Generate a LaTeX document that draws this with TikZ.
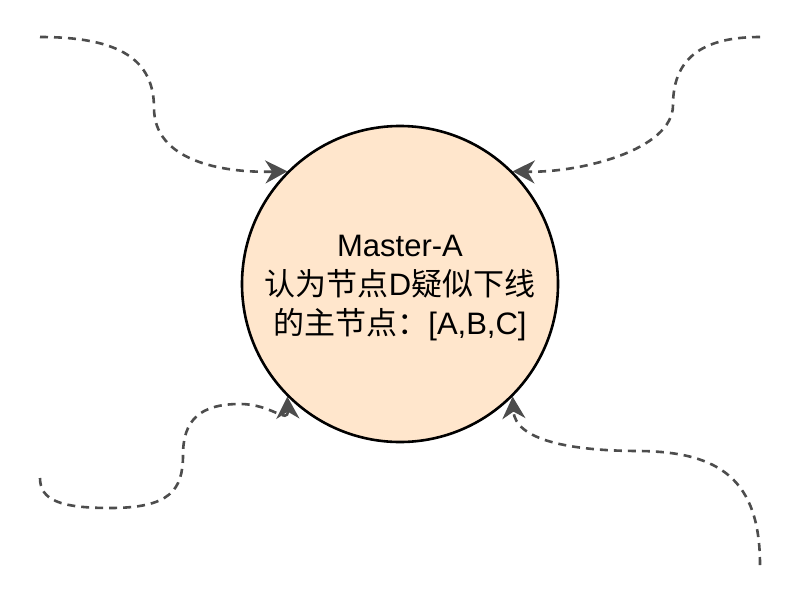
\documentclass[tikz,border=0pt]{standalone}
\usepackage{fontspec}
\setmainfont{Liberation Sans}
\newfontfamily\cjk{Noto Sans CJK SC}
\usetikzlibrary{arrows.meta}
\definecolor{peach}{HTML}{FFE6CC}
\definecolor{linkgrey}{HTML}{4D4D4D}
\tikzset{
  gossip/.style={draw=linkgrey, line width=2.6pt, dash pattern=on 8pt off 6pt,
    -{Stealth[length=22pt,width=23pt,inset=7pt]}},
}
\begin{document}
\begin{tikzpicture}[x=1pt,y=1pt,yscale=-1,xscale=1]
			\useasboundingbox (0,0) rectangle (794,594); %diagram is 794 wide, 594 high
			
			%Shape: Circle [id:master]
			\node[circle, draw=black, line width=2.6pt, fill=peach, minimum size=316pt, inner sep=0pt,
			      align=center, font=\fontsize{31}{39}\selectfont] (master) at (400,284)
			      {\rule{0pt}{30pt}Master-A\\{\cjk 认为节点}D{\cjk 疑似下线}\\{\cjk 的主节点：}[A,B,C]};
			
			%Free ends
			\coordinate (nw) at (40,37);
			\coordinate (ne) at (760,37);
			\coordinate (sw) at (40,478);
			\coordinate (se) at (760,565);
			
			%Curve Lines [id:nw]
			\draw[gossip] (nw) .. controls (120,37) and (154,60) .. (154,108)
			      .. controls (154,160) and (220,173) .. (master.135) ;
			%Curve Lines [id:ne]
			\draw[gossip] (ne) .. controls (700,37) and (673,60) .. (673,105)
			      .. controls (673,150) and (580,173) .. (master.45) ;
			%Curve Lines [id:sw]
			\draw[gossip] (sw) .. controls (40,500) and (60,508) .. (110,508)
			      .. controls (170,508) and (183,490) .. (183,455)
			      .. controls (183,420) and (200,404) .. (240,404)
			      .. controls (272,404) and (288,425) .. (master.225) ;
			%Curve Lines [id:se]
			\draw[gossip] (se) .. controls (760,480) and (720,452) .. (640,451)
			      .. controls (570,451) and (515,440) .. (master.315) ;
			
\end{tikzpicture}
\end{document}
